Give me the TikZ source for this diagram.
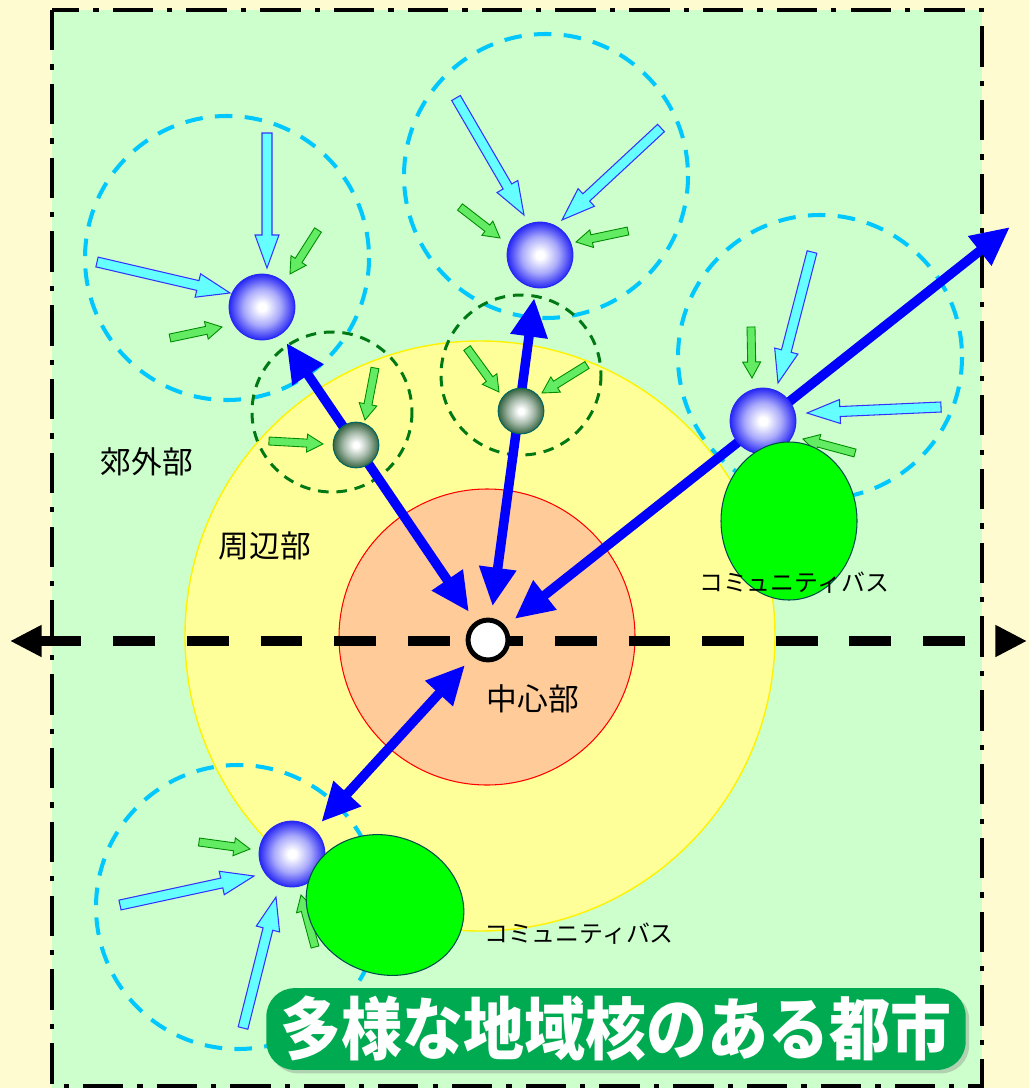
\documentclass[tikz,border=0pt]{standalone}
\usepackage{fontspec}
\newfontfamily\jp{Noto Sans CJK JP}
\usetikzlibrary{arrows.meta,shadows}

\definecolor{paper}{RGB}{255,251,208}
\definecolor{meadow}{RGB}{204,255,204}
\definecolor{ringyellow}{RGB}{255,255,153}
\definecolor{ringorange}{RGB}{255,204,153}
\definecolor{zonecyan}{RGB}{0,200,255}
\definecolor{zonegreen}{RGB}{0,120,20}
\definecolor{hubblue}{RGB}{40,40,245}
\definecolor{subgreen}{RGB}{55,100,65}
\definecolor{flowcyan}{RGB}{102,255,255}
\definecolor{flowgreen}{RGB}{100,235,100}
\definecolor{busgreen}{RGB}{0,255,0}
\definecolor{titlegreen}{RGB}{0,170,80}

\pgfdeclareradialshading{hubball}{\pgfpoint{0bp}{0bp}}{color(0bp)=(white); color(3bp)=(white); color(14bp)=(hubblue!40!white); color(25bp)=(hubblue); color(50bp)=(hubblue)}
\pgfdeclareradialshading{subball}{\pgfpoint{0bp}{0bp}}{color(0bp)=(white); color(3bp)=(white); color(14bp)=(subgreen!45!white); color(25bp)=(subgreen); color(50bp)=(subgreen)}

\pgfdeclarelayer{back}
\pgfdeclarelayer{links}
\pgfsetlayers{back,links,main}

\tikzset{
  frame/.style={line width=2.3pt, dash pattern=on 23pt off 8pt on 3pt off 8pt},
  zone/.style={zonecyan, line width=2.3pt, dash pattern=on 10pt off 7pt},
  subzone/.style={zonegreen, line width=1.7pt, dash pattern=on 6pt off 4.5pt},
  axis/.style={line width=5.6pt, dash pattern=on 23.8pt off 18.1pt,
    {Triangle[length=18pt,width=17pt]}-{Triangle[length=18pt,width=17pt]}},
  link/.style={blue, line width=5.4pt,
    {Triangle[length=22pt,width=20pt]}-{Triangle[length=22pt,width=20pt]},
    shorten <=8pt, shorten >=6pt},
  hub/.style={circle, shading=hubball, draw=hubblue, line width=0.6pt,
    minimum size=37.4pt, inner sep=0pt, outer sep=0pt},
  subhub/.style={circle, shading=subball, draw=teal!80!black, line width=0.6pt,
    minimum size=26pt, inner sep=0pt, outer sep=0pt},
  core/.style={circle, fill=white, draw=black, line width=2.8pt,
    minimum size=22.7pt, inner sep=0pt, outer sep=0pt},
  cyanflow/.style={fill=flowcyan, draw=blue!80, line width=0.6pt, line join=miter},
  greenflow/.style={fill=flowgreen, draw=green!55!black, line width=0.5pt, line join=miter},
  busarea/.style={fill=busgreen, draw=teal!60!black, line width=0.6pt},
  place/.style={font=\jp\fontsize{17.5pt}{20pt}\selectfont, inner sep=0pt},
  busname/.style={font=\jp\fontsize{13.6pt}{16pt}\selectfont, inner sep=0pt},
  title/.style={rounded corners=16pt, fill=titlegreen, text=white,
    minimum width=398pt, minimum height=46.5pt, inner sep=0pt,
    font=\jp\bfseries\fontsize{34.7pt}{38pt}\selectfont,
    drop shadow={opacity=0.35, shadow xshift=2pt, shadow yshift=-2pt}}
}

% block arrow: style, shaft half width, head half width, head length, x1, y1, x2, y2
\newcommand{\flowarrow}[8]{%
  \pgfmathsetmacro\flowang{atan2(#6-#8,#7-#5)}%
  \pgfmathsetmacro\flowlen{veclen(#7-#5,#8-#6)}%
  \begin{scope}[shift={(#5,#6)},rotate=\flowang]
    \filldraw[#1] (0,-#2) -- ({\flowlen-#4},-#2) -- ({\flowlen-#4},-#3)
      -- (\flowlen,0) -- ({\flowlen-#4},#3) -- ({\flowlen-#4},#2) -- (0,#2) -- cycle;
  \end{scope}}

\begin{document}
\begin{tikzpicture}[x=0.02cm,y=-0.02cm]
    \useasboundingbox (0,0) rectangle (1029,1088);

    % areas
    \begin{pgfonlayer}{back}
    \fill[paper] (0,0) rectangle (1029,1088);
    \fill[meadow] (52,10) rectangle (982,1088);
    \filldraw[fill=ringyellow, draw=yellow, line width=0.8pt] (480,636) circle[radius=295];
    \filldraw[fill=ringorange, draw=red, line width=0.6pt] (487,637) circle[radius=148];
    \foreach \cx/\cy in {227/258,546/176,820/357,238/907}
        \draw[zone] (\cx,\cy) circle[radius=142];
    \foreach \cx/\cy in {332/412,521/375}
        \draw[subzone] (\cx,\cy) circle[radius=80];
    \draw[frame] (52,10) rectangle (982,1086);
    \coordinate (west) at (10,641);
    \coordinate (east) at (1027,641);
    \draw[axis] (west) -- (east);
    \end{pgfonlayer}

    % centres
    \node[hub] (n1) at (262,307) {};
    \node[hub] (n2) at (540,255) {};
    \node[hub] (n3) at (763,421) {};
    \node[hub] (n4) at (292,854) {};
    \node[subhub] (g1) at (356,445) {};
    \node[subhub] (g2) at (521,411) {};
    \node[core] (c) at (488,640) {};
    \coordinate (far) at (1010,227);

    \begin{pgfonlayer}{links}
    \draw[link] (c) -- (n1);
    \draw[link] (c) -- (n2);
    \draw[link, shorten >=0pt] (c) -- (far);
    \draw[link] (c) -- (n4);
    \end{pgfonlayer}

    % inflows
    \foreach \xa/\ya/\xb/\yb in {267/133/267/268, 97/262/230/293, 456/98/524/215,
        661/128/562/220, 812/252/778/383, 941/407/807/413, 120/905/254/876, 243/1028/276/897}
        {\flowarrow{cyanflow}{5}{12}{33}{\xa}{\ya}{\xb}{\yb}}
    \foreach \xa/\ya/\xb/\yb in {318/230/290/274, 170/338/222/327, 460/207/500/238,
        628/231/576/242, 751/327/752/378, 855/453/803/439, 199/842/250/849, 315/947/301/895,
        375/368/365/420, 269/441/323/444, 467/348/499/392, 587/365/542/393}
        {\flowarrow{greenflow}{4}{9}{16}{\xa}{\ya}{\xb}{\yb}}

    % community bus areas
    \filldraw[busarea] (789,521) ellipse[x radius=68, y radius=79];
    \filldraw[busarea, rotate around={-20:(385,905)}] (385,905) ellipse[x radius=80, y radius=69];

    % labels
    \node[place] (outer) at (147,462) {郊外部};
    \node[place] (ring) at (265,546) {周辺部};
    \node[place] (middle) at (533,699) {中心部};
    \node[busname] (bus1) at (794,583) {コミュニティバス};
    \node[busname] (bus2) at (579,934) {コミュニティバス};
    \node[title] (head) at (616,1029) {\scalebox{1}[1.12]{多様な地域核のある都市}};
\end{tikzpicture}
\end{document}
